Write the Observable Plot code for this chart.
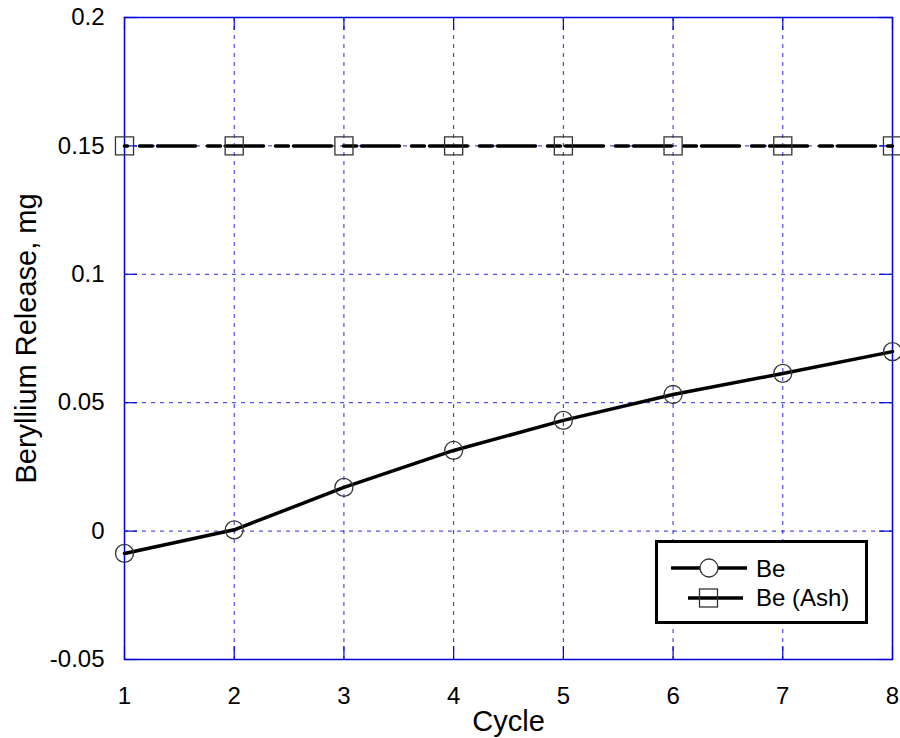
<!DOCTYPE html>
<html>
<head>
<meta charset="utf-8">
<script src="https://cdn.jsdelivr.net/npm/d3@7"></script>
<script src="https://cdn.jsdelivr.net/npm/@observablehq/plot@0.6"></script>
<style>
  html, body { margin: 0; padding: 0; background: #fff; }
  #chart { position: relative; width: 900px; height: 738px; font-family: "Liberation Sans", Arial, sans-serif; }
  #chart svg { display: block; }
  #legend { position: absolute; left: 0; top: 0; pointer-events: none; }
</style>
</head>
<body>
<div id="chart"></div>
<script>
// Cycle numbers and beryllium release per cycle (mg)
const cycles = [1, 2, 3, 4, 5, 6, 7, 8];
const beRelease = [-0.0087, 0.0005, 0.017, 0.0314, 0.0431, 0.0532, 0.0614, 0.0699];
const beAshRelease = [0.15, 0.15, 0.15, 0.15, 0.15, 0.15, 0.15, 0.15];

// Axis ticks and labels
const xTicks = [1, 2, 3, 4, 5, 6, 7, 8];
const yTicks = [-0.05, 0, 0.05, 0.1, 0.15, 0.2];
const yTickLabels = ["-0.05", "0", "0.05", "0.1", "0.15", "0.2"];

const seriesNames = ["Be", "Be (Ash)"];
const xTitle = "Cycle";
const yTitle = "Beryllium Release, mg";

const be = cycles.map((c, i) => ({cycle: c, value: beRelease[i]}));
const ash = cycles.map((c, i) => ({cycle: c, value: beAshRelease[i]}));

const W = 900, H = 738;
const mL = 124, mR = 8, mT = 17, mB = 79;
const innerW = W - mL - mR, innerH = H - mT - mB;
const tickLen = 13;
const blue = "#0000e0";
const font = "Liberation Sans, Arial, sans-serif";

const chart = Plot.plot({
  width: W,
  height: H,
  marginLeft: mL,
  marginRight: mR,
  marginTop: mT,
  marginBottom: mB,
  style: {fontFamily: font, background: "#fff", color: "#000"},
  x: {domain: [1, 8]},
  y: {domain: [-0.05, 0.2]},
  marks: [
    // dotted grid
    Plot.gridX(xTicks, {stroke: blue, strokeOpacity: 0.85, strokeWidth: 1, strokeDasharray: "4,5"}),
    Plot.gridY(yTicks, {stroke: blue, strokeOpacity: 0.85, strokeWidth: 1, strokeDasharray: "4,5"}),
    // inward tick marks on all four sides
    Plot.tickX(xTicks, {x: d => d, insetTop: innerH - tickLen, stroke: blue, strokeWidth: 1.2, strokeOpacity: 1}),
    Plot.tickX(xTicks, {x: d => d, insetBottom: innerH - tickLen, stroke: blue, strokeWidth: 1.2, strokeOpacity: 1}),
    Plot.tickY(yTicks, {y: d => d, insetRight: innerW - tickLen, stroke: blue, strokeWidth: 1.2, strokeOpacity: 1}),
    Plot.tickY(yTicks, {y: d => d, insetLeft: innerW - tickLen, stroke: blue, strokeWidth: 1.2, strokeOpacity: 1}),
    Plot.frame({stroke: blue, strokeWidth: 1.5}),
    Plot.axisX({ticks: xTicks, tickSize: 0, tickPadding: 27, fontSize: 24, label: null, tickFormat: d => String(d)}),
    Plot.axisY({ticks: yTicks, tickSize: 0, tickPadding: 20, fontSize: 24, label: null,
      tickFormat: d => yTickLabels[yTicks.indexOf(d)]}),
    // series
    Plot.line(ash, {x: "cycle", y: "value", stroke: "#000", strokeWidth: 3.5,
      strokeDasharray: "38,12,13,5", strokeDashoffset: 35}),
    Plot.dot(ash, {x: "cycle", y: "value", symbol: "square", r: 10.2, fill: "none", stroke: "#333", strokeWidth: 1.3}),
    Plot.line(be, {x: "cycle", y: "value", stroke: "#000", strokeWidth: 3.5}),
    Plot.dot(be, {x: "cycle", y: "value", symbol: "circle", r: 9, fill: "none", stroke: "#333", strokeWidth: 1.3}),
    // axis titles
    Plot.text([xTitle], {text: d => d, frameAnchor: "bottom", textAnchor: "middle", lineAnchor: "middle",
      dy: 62, fontSize: 29, fill: "#000"}),
    Plot.text([yTitle], {text: d => d, frameAnchor: "left", textAnchor: "middle", lineAnchor: "middle",
      dx: -98, rotate: -90, fontSize: 29, fill: "#000"})
  ]
});

const container = document.getElementById("chart");
container.appendChild(chart);

// Legend box
const leg = d3.select(container).append("svg")
  .attr("id", "legend").attr("width", W).attr("height", H);
leg.append("rect").attr("x", 656.5).attr("y", 541.5).attr("width", 210).attr("height", 81)
  .attr("fill", "#fff").attr("stroke", "#000").attr("stroke-width", 3);
// Be entry
leg.append("line").attr("x1", 671).attr("x2", 747).attr("y1", 568).attr("y2", 568)
  .attr("stroke", "#000").attr("stroke-width", 3.5);
leg.append("circle").attr("cx", 709).attr("cy", 568).attr("r", 9)
  .attr("fill", "#fff").attr("stroke", "#333").attr("stroke-width", 1.3);
leg.append("text").attr("x", 756).attr("y", 577).attr("font-size", 24).attr("font-family", font)
  .text(seriesNames[0]);
// Be (Ash) entry
leg.append("line").attr("x1", 688).attr("x2", 743).attr("y1", 598).attr("y2", 598)
  .attr("stroke", "#000").attr("stroke-width", 3.5);
leg.append("rect").attr("x", 699.5).attr("y", 589).attr("width", 18).attr("height", 18)
  .attr("fill", "none").attr("stroke", "#333").attr("stroke-width", 1.3);
leg.append("text").attr("x", 756).attr("y", 606).attr("font-size", 24).attr("font-family", font)
  .text(seriesNames[1]);
</script>
</body>
</html>
